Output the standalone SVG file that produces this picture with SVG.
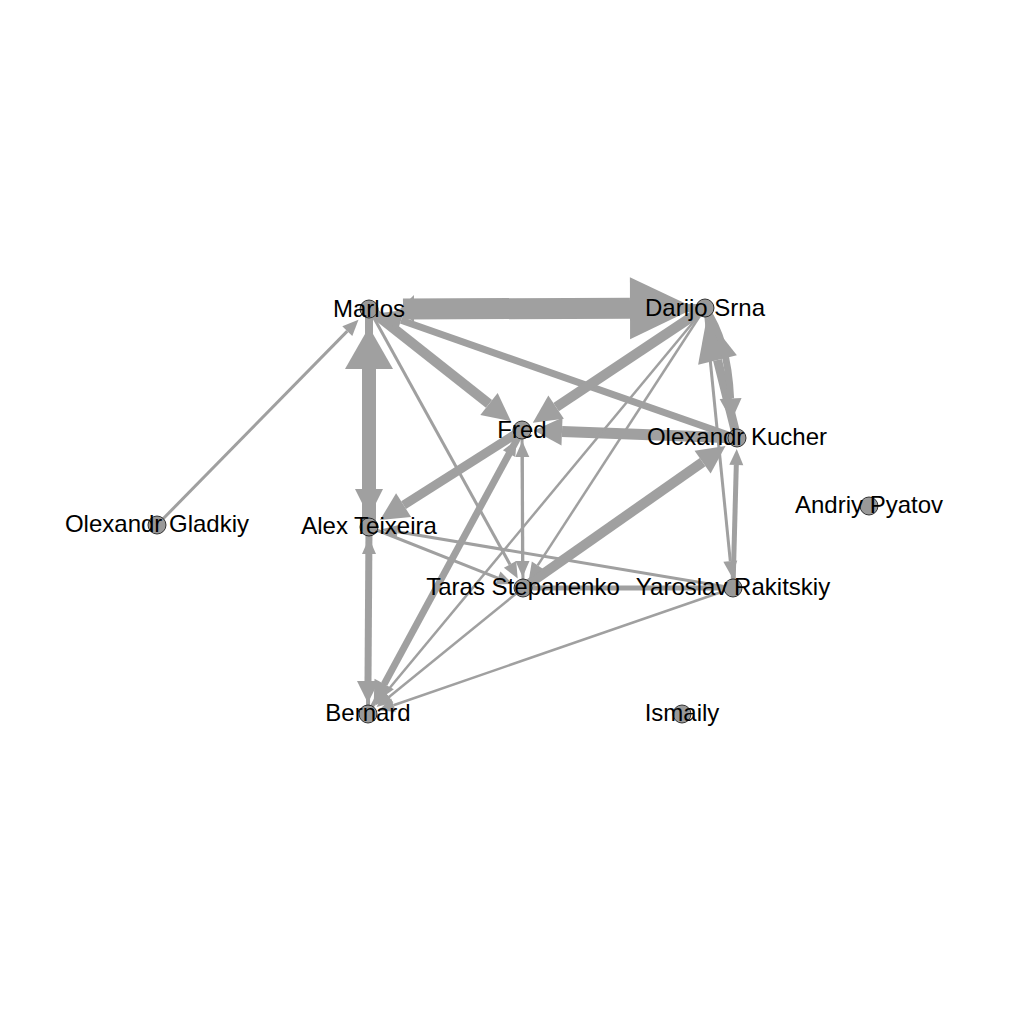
<svg xmlns="http://www.w3.org/2000/svg" width="1024" height="1024" viewBox="0 0 1024 1024">
<style>
.e{stroke:#a0a0a0;fill:none;stroke-linecap:butt}
.n{fill:#999999;stroke:#222222;stroke-width:0.9}
.t{font-family:"Liberation Sans",Arial,Helvetica,sans-serif;font-size:24px;fill:#000000;text-anchor:middle}
</style>
<defs>
<marker id="hs" markerUnits="userSpaceOnUse" orient="auto" refX="0" refY="0" overflow="visible" markerWidth="1" markerHeight="1"><path d="M0,-7 L16,0 L0,7 z" fill="#a0a0a0"/></marker>
<marker id="hm" markerUnits="userSpaceOnUse" orient="auto" refX="0" refY="0" overflow="visible" markerWidth="1" markerHeight="1"><path d="M0,-11 L22,0 L0,11 z" fill="#a0a0a0"/></marker>
<marker id="hl" markerUnits="userSpaceOnUse" orient="auto" refX="0" refY="0" overflow="visible" markerWidth="1" markerHeight="1"><path d="M0,-14 L28,0 L0,14 z" fill="#a0a0a0"/></marker>
<marker id="hw" markerUnits="userSpaceOnUse" orient="auto" refX="0" refY="0" overflow="visible" markerWidth="1" markerHeight="1"><path d="M0,-14 L14,0 L0,14 z" fill="#a0a0a0"/></marker>
<marker id="hk" markerUnits="userSpaceOnUse" orient="auto" refX="0" refY="0" overflow="visible" markerWidth="1" markerHeight="1"><path d="M0,-20 L44,0 L0,20 z" fill="#a0a0a0"/></marker>
<marker id="hx" markerUnits="userSpaceOnUse" orient="auto" refX="0" refY="0" overflow="visible" markerWidth="1" markerHeight="1"><path d="M0,-24 L42,0 L0,24 z" fill="#a0a0a0"/></marker>
<marker id="hxx" markerUnits="userSpaceOnUse" orient="auto" refX="0" refY="0" overflow="visible" markerWidth="1" markerHeight="1"><path d="M0,-31 L65,0 L0,31 z" fill="#a0a0a0"/></marker>
</defs>
<rect x="0" y="0" width="1024" height="1024" fill="#ffffff"/>
<g id="edges">
<line class="e" x1="705" y1="308" x2="414" y2="309" stroke-width="8" marker-end="url(#hw)"/>
<line class="e" x1="403" y1="309" x2="630" y2="308.2" stroke-width="21" marker-end="url(#hxx)"/>
<line class="e" x1="369" y1="527" x2="369" y2="369" stroke-width="14" marker-end="url(#hx)"/>
<line class="e" x1="369" y1="309" x2="369" y2="489" stroke-width="8" marker-end="url(#hl)"/>
<line class="e" x1="369" y1="309" x2="489" y2="403.9" stroke-width="10" marker-end="url(#hl)"/>
<line class="e" x1="737" y1="438" x2="401.1" y2="320.3" stroke-width="7" marker-end="url(#hm)"/>
<line class="e" x1="157" y1="525" x2="347.3" y2="331.1" stroke-width="3" marker-end="url(#hs)"/>
<line class="e" x1="369" y1="309" x2="510" y2="564.4" stroke-width="3" marker-end="url(#hs)"/>
<line class="e" x1="522" y1="430" x2="403.6" y2="505.1" stroke-width="9" marker-end="url(#hl)"/>
<line class="e" x1="737" y1="438" x2="562" y2="431.5" stroke-width="11" marker-end="url(#hl)"/>
<line class="e" x1="705" y1="308" x2="556.1" y2="407.2" stroke-width="10" marker-end="url(#hl)"/>
<line class="e" x1="522" y1="430" x2="522.5" y2="561" stroke-width="3" marker-end="url(#hs)"/>
<line class="e" x1="523" y1="588" x2="522.3" y2="457" stroke-width="3" marker-end="url(#hs)"/>
<line class="e" x1="368" y1="714" x2="509.1" y2="453.7" stroke-width="4" marker-end="url(#hs)"/>
<line class="e" x1="522" y1="430" x2="384.2" y2="684.1" stroke-width="7" marker-end="url(#hm)"/>
<line class="e" x1="369" y1="527" x2="368" y2="681" stroke-width="7" marker-end="url(#hm)"/>
<line class="e" x1="368" y1="714" x2="369" y2="554" stroke-width="4" marker-end="url(#hs)"/>
<line class="e" x1="733" y1="588" x2="397.6" y2="531.8" stroke-width="3" marker-end="url(#hs)"/>
<line class="e" x1="369" y1="527" x2="497.9" y2="578.1" stroke-width="3" marker-end="url(#hs)"/>
<line class="e" x1="523" y1="588" x2="702.6" y2="462.1" stroke-width="10" marker-end="url(#hl)"/>
<line class="e" x1="523" y1="588" x2="733" y2="588" stroke-width="5"/>
<line class="e" x1="733" y1="588" x2="736.3" y2="465" stroke-width="5" marker-end="url(#hs)"/>
<line class="e" x1="705" y1="308" x2="730.3" y2="561.1" stroke-width="3" marker-end="url(#hs)"/>
<line class="e" x1="705" y1="308" x2="537.7" y2="565.4" stroke-width="2.5" marker-end="url(#hs)"/>
<line class="e" x1="705" y1="308" x2="385.3" y2="693.2" stroke-width="2.5" marker-end="url(#hs)"/>
<line class="e" x1="523" y1="588" x2="389" y2="697" stroke-width="2.5" marker-end="url(#hs)"/>
<line class="e" x1="733" y1="588" x2="393.5" y2="705.2" stroke-width="2.5" marker-end="url(#hs)"/>
<line class="e" x1="737" y1="438" x2="717.5" y2="360" stroke-width="9" marker-end="url(#hk)"/>
<path class="e" d="M705,308 Q728,340 730.6,398.4" stroke-width="7" marker-end="url(#hm)"/>
</g>
<g id="node-marlos"><circle class="n" cx="369" cy="309" r="9"/><text class="t" x="369" y="317">Marlos</text></g>
<g id="node-darijo-srna"><circle class="n" cx="705" cy="308" r="9"/><text class="t" x="705" y="316">Darijo Srna</text></g>
<g id="node-fred"><circle class="n" cx="522" cy="430" r="9"/><text class="t" x="522" y="438">Fred</text></g>
<g id="node-olexandr-kucher"><circle class="n" cx="737" cy="438" r="9"/><text class="t" x="737" y="445">Olexandr Kucher</text></g>
<g id="node-andriy-pyatov"><circle class="n" cx="869" cy="506" r="9"/><text class="t" x="869" y="513">Andriy Pyatov</text></g>
<g id="node-olexandr-gladkiy"><circle class="n" cx="157" cy="525" r="9"/><text class="t" x="157" y="532">Olexandr Gladkiy</text></g>
<g id="node-alex-teixeira"><circle class="n" cx="369" cy="527" r="9"/><text class="t" x="369" y="534">Alex Teixeira</text></g>
<g id="node-taras-stepanenko"><circle class="n" cx="523" cy="588" r="9"/><text class="t" x="523" y="595">Taras Stepanenko</text></g>
<g id="node-yaroslav-rakitskiy"><circle class="n" cx="733" cy="588" r="9"/><text class="t" x="733" y="595">Yaroslav Rakitskiy</text></g>
<g id="node-bernard"><circle class="n" cx="368" cy="714" r="9"/><text class="t" x="368" y="721">Bernard</text></g>
<g id="node-ismaily"><circle class="n" cx="682" cy="714" r="9"/><text class="t" x="682" y="721">Ismaily</text></g>
</svg>
